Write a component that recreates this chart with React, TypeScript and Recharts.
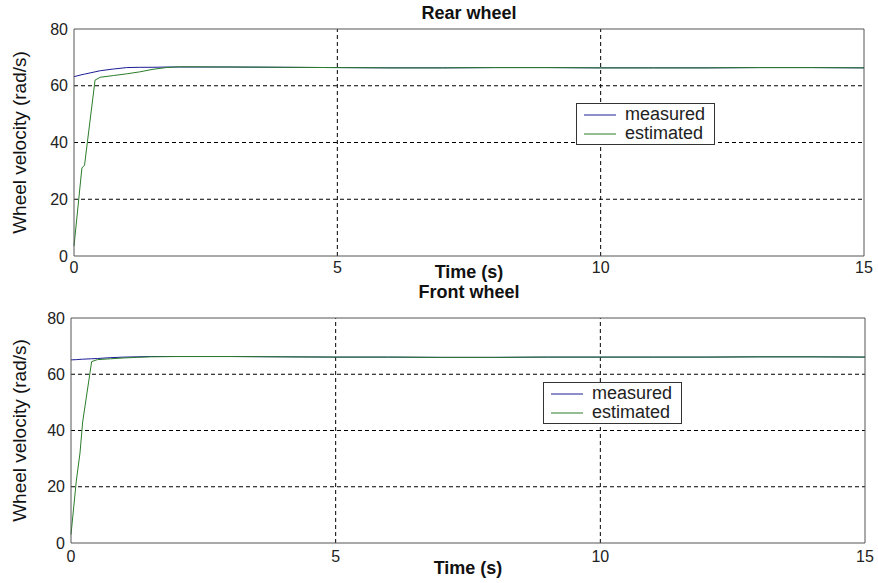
import React from 'react';
import { LineChart, Line, XAxis, YAxis, ReferenceLine, Legend } from 'recharts';

// time (s) and wheel velocity (rad/s)
const rearTime = [0, 0.15, 0.2, 0.4, 0.5, 0.75, 1, 1.25, 1.5, 1.75, 2, 3, 4, 5, 6, 7, 8, 9, 10, 11, 12, 13, 14, 15];
const rearMeasured = [63.2, 63.9, 64.1, 64.9, 65.3, 65.9, 66.4, 66.5, 66.5, 66.6, 66.6, 66.6, 66.5, 66.4, 66.3, 66.3, 66.4, 66.4, 66.3, 66.3, 66.3, 66.4, 66.4, 66.3];
const rearEstimated = [3.5, 31, 32, 62, 63, 63.6, 64.2, 64.9, 65.8, 66.4, 66.7, 66.6, 66.5, 66.4, 66.3, 66.3, 66.4, 66.4, 66.3, 66.3, 66.3, 66.4, 66.4, 66.3];

const frontTime = [0, 0.1, 0.17, 0.22, 0.39, 0.5, 0.75, 1, 1.25, 1.5, 2, 3, 4, 5, 6, 7, 8, 9, 10, 11, 12, 13, 14, 15];
const frontMeasured = [65.1, 65.2, 65.3, 65.35, 65.5, 65.6, 65.9, 66.1, 66.2, 66.3, 66.3, 66.3, 66.2, 66.1, 66.1, 66.0, 66.0, 66.1, 66.1, 66.1, 66.1, 66.2, 66.2, 66.1];
const frontEstimated = [3, 22, 32, 43, 64.5, 65.2, 65.5, 65.8, 66.0, 66.2, 66.3, 66.3, 66.2, 66.1, 66.1, 66.0, 66.0, 66.1, 66.1, 66.1, 66.1, 66.2, 66.2, 66.1];

const seriesNames = ['measured', 'estimated'];
const xTicks = [0, 5, 10, 15];
const yTicks = [0, 20, 40, 60, 80];
const xGrid = [5, 10];
const yGrid = [20, 40, 60];

const FONT = '"Liberation Sans", Arial, sans-serif';
const BLUE = '#1c1c96';
const GREEN = '#2a7d2a';
const AXIS = '#555';

const LegendBox = (props: any) => {
  const items = [...(props.payload || [])].sort(
    (a: any, b: any) => seriesNames.indexOf(a.value) - seriesNames.indexOf(b.value)
  );
  return (
    <div style={{ border: '1px solid #333', background: '#fff', padding: '1px 0', fontFamily: FONT, fontSize: 18, color: '#222' }}>
      {items.map((p: any) => (
        <div key={p.value} style={{ display: 'flex', alignItems: 'center', height: 19, lineHeight: '19px' }}>
          <svg width={40} height={10} style={{ display: 'block' }}>
            <line x1={7} x2={39} y1={5} y2={5} stroke={p.color} strokeWidth={1} />
          </svg>
          <span style={{ marginLeft: 8 }}>{p.value}</span>
        </div>
      ))}
    </div>
  );
};

interface PanelProps {
  time: number[];
  measured: number[];
  estimated: number[];
  height: number;
  marginTop: number;
  marginRight: number;
  yAxisWidth: number;
  xAxisHeight: number;
  xTickMargin: number;
  timeOffset: number;
  legendPos: { left: number; top: number; width: number };
}

const Panel = (p: PanelProps) => {
  const data = p.time.map((t, i) => ({ t, measured: p.measured[i], estimated: p.estimated[i] }));
  return (
    <LineChart width={878} height={p.height} data={data} margin={{ top: p.marginTop, right: p.marginRight, bottom: 0, left: 0 }}>
      <XAxis
        type="number"
        dataKey="t"
        domain={[0, 15]}
        ticks={xTicks}
        interval={0}
        height={p.xAxisHeight}
        tickLine={false}
        tickSize={0}
        tickMargin={p.xTickMargin}
        axisLine={{ stroke: AXIS }}
        tick={{ fill: '#222', fontSize: 16, fontFamily: FONT }}
        label={{ value: 'Time (s)', position: 'insideBottom', offset: p.timeOffset, fill: '#111', fontSize: 18, fontWeight: 'bold', fontFamily: FONT }}
      />
      <YAxis
        type="number"
        domain={[0, 80]}
        ticks={yTicks}
        interval={0}
        width={p.yAxisWidth}
        tickLine={false}
        tickSize={0}
        tickMargin={6}
        axisLine={{ stroke: AXIS }}
        tick={{ fill: '#222', fontSize: 16, fontFamily: FONT }}
        label={{ value: 'Wheel velocity (rad/s)', angle: -90, position: 'insideLeft', offset: 19, fill: '#111', fontSize: 19, fontFamily: FONT, style: { textAnchor: 'middle' } }}
      />
      {xGrid.map((v) => (
        <ReferenceLine key={'x' + v} x={v} stroke="#000" strokeDasharray="4 3" />
      ))}
      {yGrid.map((v) => (
        <ReferenceLine key={'y' + v} y={v} stroke="#000" strokeDasharray="4 3" />
      ))}
      <ReferenceLine y={80} stroke={AXIS} />
      <ReferenceLine x={15} stroke={AXIS} />
      <Line type="linear" dataKey="measured" name="measured" stroke={BLUE} strokeWidth={1} dot={false} isAnimationActive={false} />
      <Line type="linear" dataKey="estimated" name="estimated" stroke={GREEN} strokeWidth={1} dot={false} isAnimationActive={false} />
      <Legend
        layout="horizontal"
        verticalAlign="middle"
        align="center"
        content={<LegendBox />}
        wrapperStyle={{ left: p.legendPos.left, top: p.legendPos.top, width: p.legendPos.width }}
      />
    </LineChart>
  );
};

const titleStyle: React.CSSProperties = {
  position: 'absolute',
  left: 0,
  width: 938,
  textAlign: 'center',
  fontFamily: FONT,
  fontWeight: 'bold',
  fontSize: 18,
  lineHeight: '18px',
  color: '#111',
};

export default function App() {
  return (
    <div style={{ position: 'absolute', left: 0, top: 0, width: 878, height: 583, background: '#fff', overflow: 'hidden' }}>
      <div style={{ position: 'absolute', left: 0, top: 0 }}>
        <Panel
          time={rearTime}
          measured={rearMeasured}
          estimated={rearEstimated}
          height={290}
          marginTop={29}
          marginRight={14}
          yAxisWidth={74}
          xAxisHeight={34}
          xTickMargin={6}
          timeOffset={12}
          legendPos={{ left: 576, top: 103, width: 139 }}
        />
      </div>
      <div style={{ position: 'absolute', left: 0, top: 290 }}>
        <Panel
          time={frontTime}
          measured={frontMeasured}
          estimated={frontEstimated}
          height={293}
          marginTop={28}
          marginRight={13}
          yAxisWidth={71}
          xAxisHeight={40}
          xTickMargin={8}
          timeOffset={9}
          legendPos={{ left: 543, top: 92, width: 139 }}
        />
      </div>
      <div style={{ ...titleStyle, top: 4 }}>Rear wheel</div>
      <div style={{ ...titleStyle, top: 283 }}>Front wheel</div>
    </div>
  );
}
